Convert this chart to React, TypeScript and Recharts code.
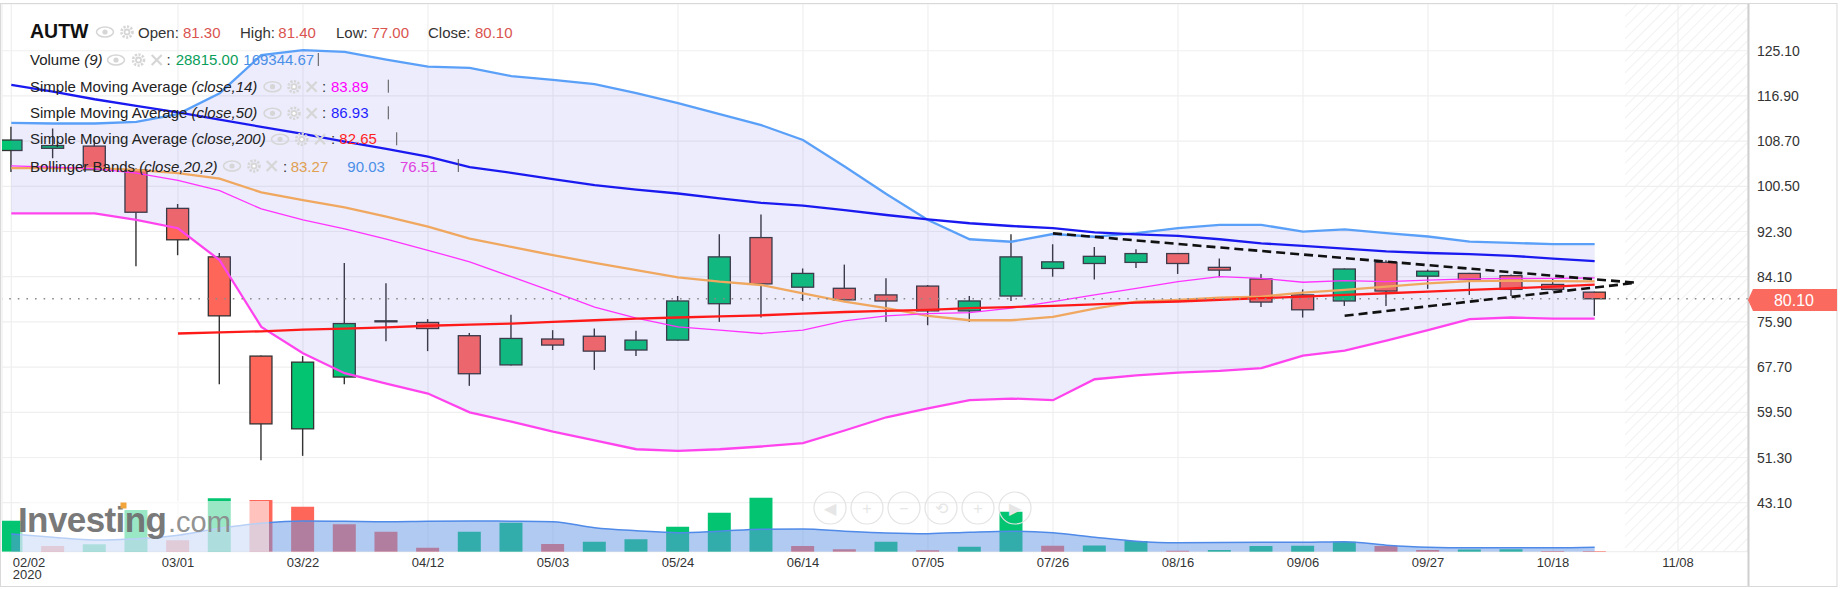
import React from 'react';
import { ComposedChart, Bar, Line, Area, XAxis, YAxis, CartesianGrid, ReferenceLine, Cell } from 'recharts';

const W = 1844;
const H = 589;
const FONT = '"Liberation Sans", Arial, Helvetica, sans-serif';

// ---------- data ----------
const weeks = [
  '02/02', '02/09', '02/16', '02/23', '03/01', '03/08', '03/15', '03/22', '03/29', '04/05',
  '04/12', '04/19', '04/26', '05/03', '05/10', '05/17', '05/24', '05/31', '06/07', '06/14',
  '06/21', '06/28', '07/05', '07/12', '07/19', '07/26', '08/02', '08/09', '08/16', '08/23',
  '08/30', '09/06', '09/13', '09/20', '09/27', '10/04', '10/11', '10/18', '10/25',
];
const opens = [107.0, 107.4, 107.8, 103.5, 96.5, 87.7, 69.7, 56.5, 65.9, 76.0, 75.8, 73.4, 68.1, 72.8, 73.3, 70.8, 72.6, 79.2, 91.2, 82.2, 82.0, 80.8, 82.4, 77.9, 80.6, 85.6, 86.5, 86.7, 88.3, 85.8, 83.7, 80.8, 79.7, 86.7, 84.2, 84.7, 84.3, 82.7, 81.3];
const highs = [111.3, 111.0, 108.9, 103.8, 97.3, 88.4, 69.8, 69.7, 86.6, 82.9, 76.4, 73.9, 77.2, 74.4, 74.7, 74.3, 80.6, 91.8, 95.4, 85.6, 86.3, 83.8, 82.6, 80.6, 91.8, 90.0, 89.5, 89.1, 88.4, 87.4, 84.6, 81.8, 85.6, 87.1, 85.4, 84.8, 84.5, 83.8, 81.4];
const lows = [103.1, 105.6, 103.3, 86.0, 88.0, 64.6, 50.8, 51.6, 64.6, 72.4, 70.6, 64.3, 68.0, 70.8, 67.2, 69.7, 72.5, 75.9, 76.7, 79.7, 79.8, 75.9, 75.3, 75.9, 79.7, 84.1, 83.6, 85.7, 84.6, 84.0, 78.6, 76.7, 78.8, 78.8, 81.9, 80.8, 80.6, 81.6, 77.0];
const closes = [108.9, 107.9, 103.5, 95.8, 90.8, 77.0, 57.4, 68.6, 75.6, 76.1, 74.7, 66.5, 72.9, 71.7, 70.6, 72.6, 79.7, 87.7, 82.8, 84.7, 79.9, 79.7, 77.9, 79.7, 87.7, 86.8, 87.8, 88.3, 86.5, 85.3, 79.5, 78.1, 85.5, 81.5, 85.1, 83.6, 81.8, 81.8, 80.1];
const volumes = [1165600, 214300, 278200, 1567900, 428600, 2007800, 1943900, 1692000, 1030200, 752000, 150400, 752500, 1090400, 289500, 376000, 466200, 940000, 1466400, 2030400, 214300, 90200, 376000, 52600, 188000, 1504000, 225600, 236900, 402300, 37600, 63900, 214300, 225600, 376000, 214300, 63900, 86500, 94000, 30100, 28815];
const volumeMA = [665500, 545200, 439900, 488800, 620400, 879800, 1067800, 1154300, 1143000, 1128000, 1146800, 1154300, 1146800, 1128000, 902400, 789600, 714400, 770800, 846000, 853500, 770800, 703100, 676800, 733200, 770800, 714400, 545200, 394800, 338400, 345900, 353400, 357200, 376000, 244400, 169200, 150400, 150400, 150400, 169344.67];
const sma14 = [104.2, 104.0, 103.7, 102.9, 101.6, 99.7, 96.4, 94.4, 92.8, 90.9, 88.9, 86.8, 84.1, 81.4, 78.6, 76.6, 75.0, 74.4, 73.8, 74.4, 76.1, 77.0, 77.4, 77.6, 78.4, 79.6, 80.8, 82.0, 83.2, 84.1, 83.8, 83.1, 83.4, 83.2, 83.5, 83.7, 83.8, 83.8, 83.89];
const sma50 = [118.9, 117.7, 116.3, 115.1, 113.9, 112.6, 111.3, 110.0, 108.6, 107.3, 105.9, 104.0, 102.95, 101.8, 100.7, 99.9, 99.2, 98.3, 97.5, 97.0, 96.2, 95.3, 94.5, 93.8, 93.3, 92.9, 92.15, 91.8, 91.5, 90.9, 90.15, 89.7, 89.2, 88.7, 88.4, 88.2, 87.9, 87.4, 86.93];
const sma200 = [null, null, null, null, 73.8, 74.0, 74.2, 74.5, 74.7, 74.9, 75.2, 75.4, 75.6, 75.9, 76.2, 76.5, 76.7, 76.9, 77.1, 77.4, 77.7, 77.9, 78.1, 78.4, 78.6, 78.8, 79.1, 79.4, 79.6, 79.9, 80.2, 80.5, 80.8, 81.1, 81.4, 81.7, 82.0, 82.3, 82.65];
const bbMid = [103.8, 103.8, 103.8, 103.5, 102.9, 101.9, 99.4, 98.0, 96.7, 95.0, 93.2, 91.0, 89.5, 88.0, 86.6, 85.3, 84.0, 83.2, 82.6, 81.1, 79.6, 78.4, 77.0, 76.2, 76.2, 76.8, 78.3, 79.6, 79.9, 80.3, 80.5, 81.2, 81.7, 82.3, 82.9, 83.3, 83.4, 83.3, 83.27];
const bbUpper = [112.0, 111.9, 111.9, 112.2, 113.6, 117.4, 124.3, 125.2, 124.9, 123.5, 122.2, 122.0, 120.5, 119.8, 119.06, 117.4, 115.6, 113.6, 111.6, 108.9, 104.1, 99.1, 94.4, 90.9, 90.45, 91.85, 91.35, 92.0, 92.9, 93.5, 93.5, 92.3, 92.7, 92.0, 91.4, 90.45, 90.25, 90.0, 90.03];
const bbLower = [95.6, 95.6, 95.6, 94.4, 92.9, 87.1, 75.0, 70.2, 66.6, 64.7, 62.9, 59.5, 57.8, 56.0, 54.4, 52.8, 52.5, 52.8, 53.3, 53.9, 56.2, 58.6, 60.2, 61.7, 62.0, 61.7, 65.5, 66.2, 66.7, 67.0, 67.5, 69.8, 70.7, 72.5, 74.4, 76.4, 76.7, 76.5, 76.51];

const xTickIdx = [0, 4, 7, 10, 13, 16, 19, 22, 25, 28, 31, 34, 37, 40];
const xTickLabels = ['02/02', '03/01', '03/22', '04/12', '05/03', '05/24', '06/14', '07/05', '07/26', '08/16', '09/06', '09/27', '10/18', '11/08'];
const priceTicks = [43.1, 51.3, 59.5, 67.7, 75.9, 84.1, 92.3, 100.5, 108.7, 116.9, 125.1];
const lastPrice = 80.1;
const trendUpper = [{ x: 25, y: 91.97 }, { x: 39, y: 83.0 }];
const trendLower = [{ x: 32, y: 77.02 }, { x: 39, y: 83.0 }];

// ---------- styling ----------
const GREEN = '#03c470';
const RED = '#ff665a';
const X_DOMAIN: [number, number] = [-0.223, 41.68];
const PRICE_DOMAIN: [number, number] = [34.21, 133.58];
const VOL_DOMAIN: [number, number] = [0, 547.7 * 37600];

const data = weeks.map((w, i) => ({
  i,
  week: w,
  open: opens[i],
  high: highs[i],
  low: lows[i],
  close: closes[i],
  volume: volumes[i],
  volMA: volumeMA[i],
  sma14: sma14[i],
  sma50: sma50[i],
  sma200: sma200[i],
  bbMid: bbMid[i],
  bbUpper: bbUpper[i],
  bbLower: bbLower[i],
  band: [bbLower[i], bbUpper[i]],
  volUp: i === 0 ? true : volumes[i] >= volumes[i - 1],
}));

function Candle(props: any) {
  const { x, y, width, height, payload } = props;
  if (!payload || x == null) return null;
  const top = Math.min(y, y + height);
  const h = Math.abs(height);
  const { open, close, high, low } = payload;
  const k = h / (high - low);
  const py = (v: number) => top + (high - v) * k;
  const cx = x + width / 2;
  const up = close >= open;
  const bTop = py(Math.max(open, close));
  const bBot = py(Math.min(open, close));
  return (
    <g>
      <line x1={cx} x2={cx} y1={top} y2={top + h} stroke="#333" strokeWidth={1.4} />
      <rect x={x + 0.5} y={bTop} width={width - 1} height={Math.max(bBot - bTop, 1)} fill={up ? GREEN : RED} stroke="#333" strokeWidth={1.3} />
    </g>
  );
}

const PriceTick = (props: any) => {
  const { y, payload } = props;
  return (
    <text x={1757} y={y + 5} fontSize={14} fill="#333" fontFamily={FONT}>
      {Number(payload.value).toFixed(2)}
    </text>
  );
};

const DateTick = (props: any) => {
  const { x, payload } = props;
  const k = xTickIdx.indexOf(payload.value);
  const label = xTickLabels[k];
  if (k === 0) {
    return (
      <g fontFamily={FONT} fontSize={13} fill="#333">
        <text x={x + 1.5} y={566.5} textAnchor="start">{label}</text>
        <text x={x + 1.5} y={578.5} textAnchor="start">2020</text>
      </g>
    );
  }
  return (
    <text x={x} y={566.5} textAnchor="middle" fontFamily={FONT} fontSize={13} fill="#333">{label}</text>
  );
};

// ---------- legend icons ----------
const IC = '#d6d6d6';
const Eye = ({ cx, cy }: any) => (
  <g>
    <ellipse cx={cx} cy={cy} rx={8.5} ry={5} fill="none" stroke={IC} strokeWidth={1.6} />
    <circle cx={cx} cy={cy} r={2.6} fill={IC} />
  </g>
);
const Gear = ({ cx, cy }: any) => (
  <g>
    <circle cx={cx} cy={cy} r={5.5} fill="none" stroke={IC} strokeWidth={2.6} strokeDasharray="2.2 1.4" />
    <circle cx={cx} cy={cy} r={3.4} fill={IC} />
    <circle cx={cx} cy={cy} r={1.6} fill="#fff" />
  </g>
);
const XIcon = ({ cx, cy }: any) => (
  <g stroke={IC} strokeWidth={2.2}>
    <line x1={cx - 5} y1={cy - 5} x2={cx + 5} y2={cy + 5} />
    <line x1={cx - 5} y1={cy + 5} x2={cx + 5} y2={cy - 5} />
  </g>
);
const Sep = ({ x, cy }: any) => <line x1={x} x2={x} y1={cy - 7} y2={cy + 6} stroke="#555" strokeWidth={1} />;

const LegendOverlay = () => {
  const t = { fontFamily: FONT, fontSize: 15 };
  const valRed = '#d9534f';
  return (
    <svg width={W} height={H} style={{ position: 'absolute', left: 0, top: 0, pointerEvents: 'none' }}>
      {/* watermark backdrop */}
      <rect x={20} y={501} width={249} height={50.7} fill="#fff" opacity={0.6} />
      <text x={18} y={532} fontFamily={FONT} fontSize={35} fontWeight="bold" fill="#6e6e6e" letterSpacing={-0.6} opacity={0.92}>Investing</text>
      <rect x={120.5} y={502.5} width={6} height={6} fill="#f2a53a" />
      <text x={168} y={532} fontFamily={FONT} fontSize={29} fill="#8a8a8a" opacity={0.92}>.com</text>

      {/* navigation buttons */}
      {[830, 867, 904, 941, 978, 1015].map((cx, k) => (
        <g key={k}>
          <circle cx={cx} cy={508} r={16} fill="none" stroke="#e3e3e3" strokeWidth={1.2} />
          <text x={cx} y={514} textAnchor="middle" fontFamily={FONT} fontSize={16} fill="#e6e6e6">
            {['◀', '+', '−', '⟲', '+', '▶'][k]}
          </text>
        </g>
      ))}

      {/* row 1 */}
      <text x={30} y={38} fontFamily={FONT} fontSize={19.5} fontWeight="bold" fill="#111">AUTW</text>
      <Eye cx={105} cy={32} />
      <Gear cx={127} cy={32} />
      <text {...t} y={38} fill="#333">
        <tspan x={138}>Open:</tspan>
        <tspan x={183} fill={valRed}>81.30</tspan>
        <tspan x={240}>High:</tspan>
        <tspan x={278.3} fill={valRed}>81.40</tspan>
        <tspan x={336}>Low:</tspan>
        <tspan x={371.5} fill={valRed}>77.00</tspan>
        <tspan x={428}>Close:</tspan>
        <tspan x={475} fill={valRed}>80.10</tspan>
      </text>

      {/* row 2 */}
      <text {...t} x={30} y={65} fill="#222">Volume <tspan fontStyle="italic">(9)</tspan></text>
      <Eye cx={116} cy={60} />
      <Gear cx={138.5} cy={60} />
      <XIcon cx={156.7} cy={60} />
      <text {...t} x={166.5} y={65} fill="#333">:</text>
      <text {...t} x={175.7} y={65} fill="#0a9e5a">28815.00</text>
      <text {...t} x={243.3} y={65} fill="#4a8fe7">169344.67</text>
      <Sep x={318.3} cy={60} />

      {/* row 3 */}
      <text {...t} x={30} y={91.7} fill="#222">Simple Moving Average <tspan fontStyle="italic">(close,14)</tspan></text>
      <Eye cx={272.5} cy={86.7} />
      <Gear cx={294} cy={86.7} />
      <XIcon cx={311.7} cy={86.7} />
      <text {...t} x={322} y={91.7} fill="#333">:</text>
      <text {...t} x={331} y={91.7} fill="#ff00ff">83.89</text>
      <Sep x={388.3} cy={86.7} />

      {/* row 4 */}
      <text {...t} x={30} y={118.3} fill="#222">Simple Moving Average <tspan fontStyle="italic">(close,50)</tspan></text>
      <Eye cx={272.5} cy={113.3} />
      <Gear cx={294} cy={113.3} />
      <XIcon cx={311.7} cy={113.3} />
      <text {...t} x={322} y={118.3} fill="#333">:</text>
      <text {...t} x={331} y={118.3} fill="#1f1fff">86.93</text>
      <Sep x={388.3} cy={113.3} />

      {/* row 5 */}
      <text {...t} x={30} y={144} fill="#222">Simple Moving Average <tspan fontStyle="italic">(close,200)</tspan></text>
      <Eye cx={280} cy={139.3} />
      <Gear cx={301.7} cy={139.3} />
      <XIcon cx={320} cy={139.3} />
      <text {...t} x={331} y={144} fill="#333">:</text>
      <text {...t} x={339.3} y={144} fill="#ff1f1f">82.65</text>
      <Sep x={396.7} cy={139.3} />

      {/* row 6 */}
      <text {...t} x={30} y={171.7} fill="#222">Bollinger Bands <tspan fontStyle="italic">(close,20,2)</tspan></text>
      <Eye cx={232} cy={166} />
      <Gear cx={254} cy={166} />
      <XIcon cx={271.7} cy={166} />
      <text {...t} x={283} y={171.7} fill="#333">:</text>
      <text {...t} x={290.7} y={171.7} fill="#e0a050">83.27</text>
      <text {...t} x={347.3} y={171.7} fill="#4a8fe7">90.03</text>
      <text {...t} x={400} y={171.7} fill="#e040e0">76.51</text>
      <Sep x={458.3} cy={166} />

      {/* price axis separator and frame */}
      <line x1={1748.5} x2={1748.5} y1={3.5} y2={587} stroke="#cfcfcf" strokeWidth={2} />
      <rect x={0.5} y={3.5} width={1836.5} height={583} fill="none" stroke="#d9d9d9" strokeWidth={1} />

      {/* last price label */}
      <polygon points="1748,300 1753,289 1837,289 1837,311 1753,311" fill="#fa6a5f" />
      <text x={1794} y={305.5} textAnchor="middle" fontFamily={FONT} fontSize={16} fill="#fff">80.10</text>
    </svg>
  );
};

const Background = () => (
  <svg width={W} height={H} style={{ position: 'absolute', left: 0, top: 0 }}>
    <defs>
      <pattern id="hatch" patternUnits="userSpaceOnUse" width={8} height={8} patternTransform="rotate(45)">
        <line x1={0} y1={0} x2={0} y2={8} stroke="#ececec" strokeWidth={1.5} />
      </pattern>
    </defs>
    <rect x={0} y={0} width={W} height={H} fill="#fff" />
    <rect x={1625} y={4} width={123} height={547.7} fill="url(#hatch)" />
  </svg>
);

export default function App() {
  return (
    <div style={{ position: 'absolute', left: 0, top: 0, width: W, height: H, background: '#fff', fontFamily: FONT }}>
      <Background />
      <div style={{ position: 'absolute', left: 0, top: 0 }}>
        <ComposedChart width={W} height={H} data={data} margin={{ top: 4, right: 0, bottom: 0, left: 2 }}>
          <CartesianGrid yAxisId="price" stroke="#efefef" strokeWidth={1.2} />
          <XAxis
            type="number"
            dataKey="i"
            domain={X_DOMAIN}
            allowDataOverflow
            ticks={xTickIdx}
            interval={0}
            tick={<DateTick />}
            tickLine={false}
            axisLine={false}
            height={37.3}
          />
          <XAxis xAxisId="vx" type="number" dataKey="i" domain={X_DOMAIN} allowDataOverflow hide />
          <YAxis
            yAxisId="price"
            orientation="right"
            domain={PRICE_DOMAIN}
            allowDataOverflow
            ticks={priceTicks}
            interval={0}
            tick={<PriceTick />}
            tickLine={false}
            axisLine={false}
            width={96}
          />
          <YAxis yAxisId="vol" domain={VOL_DOMAIN} allowDataOverflow hide />

          <Bar xAxisId="vx" yAxisId="vol" dataKey="volume" barSize={23} isAnimationActive={false}>
            {data.map((d) => (
              <Cell key={d.i} fill={d.volUp ? GREEN : RED} />
            ))}
          </Bar>
          <Area
            xAxisId="vx"
            yAxisId="vol"
            type="monotone"
            dataKey="volMA"
            stroke="#4f8ae8"
            strokeWidth={1.5}
            fill="#6496e6"
            fillOpacity={0.5}
            dot={false}
            activeDot={false}
            isAnimationActive={false}
            zIndex={350}
          />

          <Bar yAxisId="price" dataKey={(d: any) => [d.low, d.high]} barSize={23} shape={(p: any) => <Candle {...p} />} isAnimationActive={false} />

          <Area
            yAxisId="price"
            type="linear"
            dataKey="band"
            stroke="none"
            fill="#7272e8"
            fillOpacity={0.135}
            dot={false}
            activeDot={false}
            isAnimationActive={false}
            zIndex={350}
          />

          <Line yAxisId="price" type="linear" dataKey="bbUpper" stroke="#5aa0f8" strokeWidth={2.3} dot={false} isAnimationActive={false} />
          <Line yAxisId="price" type="linear" dataKey="bbLower" stroke="#ff44ee" strokeWidth={2.3} dot={false} isAnimationActive={false} />
          <Line yAxisId="price" type="linear" dataKey="bbMid" stroke="#f0a860" strokeWidth={2.3} dot={false} isAnimationActive={false} />
          <Line yAxisId="price" type="linear" dataKey="sma14" stroke="#ff33ff" strokeWidth={1.3} dot={false} isAnimationActive={false} />
          <Line yAxisId="price" type="linear" dataKey="sma200" stroke="#ff1a1a" strokeWidth={2.3} dot={false} isAnimationActive={false} />
          <Line yAxisId="price" type="linear" dataKey="sma50" stroke="#1a1af0" strokeWidth={2.3} dot={false} isAnimationActive={false} />

          <ReferenceLine yAxisId="price" y={lastPrice} stroke="#8a8a8a" strokeWidth={1.6} strokeDasharray="1.6 7" ifOverflow="visible" />
          <ReferenceLine yAxisId="price" segment={trendUpper} stroke="#111" strokeWidth={2.6} strokeDasharray="9 5" ifOverflow="visible" />
          <ReferenceLine yAxisId="price" segment={trendLower} stroke="#111" strokeWidth={2.6} strokeDasharray="9 5" ifOverflow="visible" />
        </ComposedChart>
      </div>
      <LegendOverlay />
    </div>
  );
}
